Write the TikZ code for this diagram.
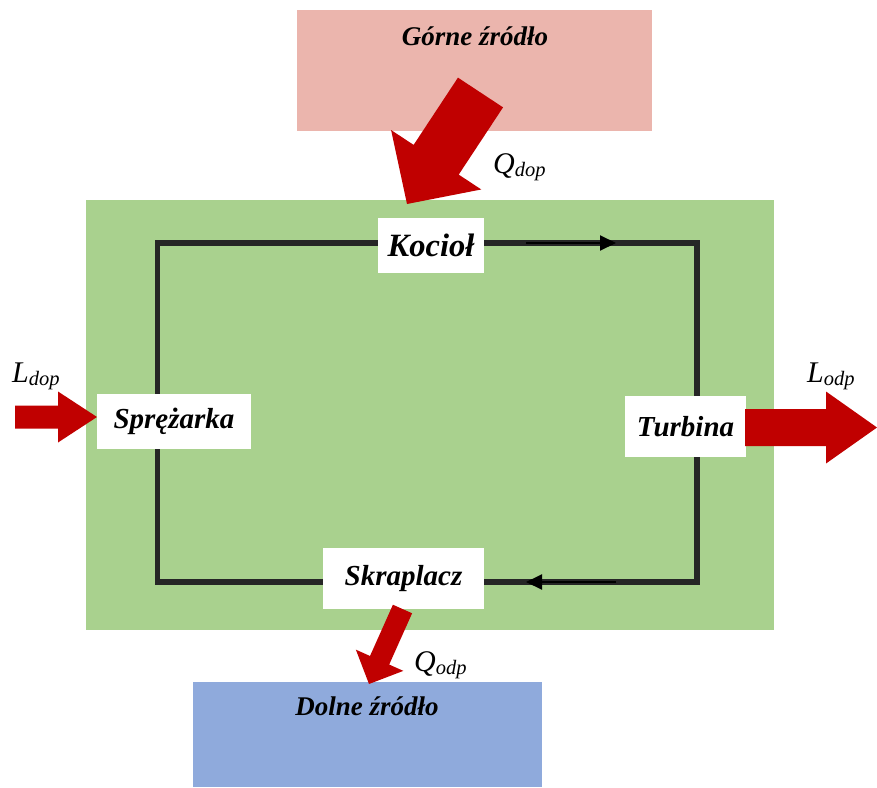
\documentclass[tikz,border=0pt]{standalone}
\usepackage{fontspec}
\setmainfont{Liberation Serif}
\usetikzlibrary{calc}
\usetikzlibrary{arrows.meta}
\definecolor{hotsrc}{HTML}{EBB5AD}
\definecolor{coldsrc}{HTML}{8FAADC}
\definecolor{plant}{HTML}{A9D18E}
\definecolor{heatred}{HTML}{C00000}
\definecolor{loopgray}{HTML}{262626}
% fat arrow: from, tip, half shaft, half head, head length
\newcommand{\heatarrow}[5]{%
  \coordinate (hb) at ($(#2)!#5!(#1)$);
  \fill[heat] ($(#1)!#3!90:(#2)$) -- ($(hb)!#3!90:(#2)$) -- ($(hb)!#4!90:(#2)$) -- (#2)
    -- ($(hb)!#4!-90:(#2)$) -- ($(hb)!#3!-90:(#2)$) -- ($(#1)!#3!-90:(#2)$) -- cycle;}
\newcommand{\work}[2]{{\fontsize{30}{32}\selectfont\itshape #1\raisebox{-0.1em}{\fontsize{20.5}{22}\selectfont #2}}}

\begin{document}
\begin{tikzpicture}[x=1pt, y=-1pt,
    part/.style={fill=white, inner sep=0pt, font=\fontsize{29}{32}\selectfont\bfseries\itshape},
    source/.style={inner sep=0pt, font=\fontsize{27}{29}\selectfont\bfseries\itshape},
    loopline/.style={draw=loopgray, line width=5.5pt},
    flow/.style={line width=2pt, -{Triangle[length=16pt,width=15pt]}},
    heat/.style={fill=heatred}]
        \useasboundingbox (0,0) rectangle (877,787);

        % reservoirs and plant
        \fill[hotsrc] (297,10) rectangle (652,131);
        \fill[plant] (86,200) rectangle (774,630);
        \fill[coldsrc] (193,682) rectangle (542,787);
        \node[source] (gorne) at (475,36) {Górne źródło};
        \node[source] (dolne) at (367,706) {Dolne źródło};

        % the cycle
        \coordinate (c1) at (157.5,243);
        \coordinate (c2) at (697,243);
        \coordinate (c3) at (697,582);
        \coordinate (c4) at (157.5,582);
        \draw[loopline] (c1) -- (c2) -- (c3) -- (c4) -- cycle;
        \coordinate (fa) at (526,243);
        \coordinate (fb) at (616,243);
        \coordinate (fc) at (616,582);
        \coordinate (fd) at (526,582);
        \draw[flow] (fa) -- (fb);
        \draw[flow] (fc) -- (fd);

        \node[part, minimum width=106pt, minimum height=55pt, font=\fontsize{32.5}{34}\selectfont\bfseries\itshape] (kociol) at (431,245.5) {Kocioł};
        \node[part, minimum width=154pt, minimum height=55pt] (sprezarka) at (174,421.5) {Sprężarka};
        \node[part, minimum width=121pt, minimum height=61pt] (turbina) at (685.5,426.5) {Turbina};
        \node[part, minimum width=161pt, minimum height=61pt] (skraplacz) at (403.5,578.5) {Skraplacz};

        % heat and work
        \coordinate (qdop-a) at (480.5,92.5);
        \coordinate (qdop-b) at (407,204);
        \heatarrow{qdop-a}{qdop-b}{27pt}{54pt}{53pt}
        \coordinate (qodp-a) at (402.5,609);
        \coordinate (qodp-b) at (369,684);
        \heatarrow{qodp-a}{qodp-b}{10.5pt}{26pt}{26pt}
        \coordinate (ldop-a) at (15,417);
        \coordinate (ldop-b) at (97,417);
        \heatarrow{ldop-a}{ldop-b}{11.5pt}{25.5pt}{39pt}
        \coordinate (lodp-a) at (745,427.5);
        \coordinate (lodp-b) at (877,427.5);
        \heatarrow{lodp-a}{lodp-b}{18.5pt}{36pt}{51pt}

        \node[anchor=base west, inner sep=0pt] (qdop) at (493,173) {\work{Q}{dop}};
        \node[anchor=base west, inner sep=0pt] (qodp) at (414,671) {\work{Q}{odp}};
        \node[anchor=base west, inner sep=0pt] (ldop) at (12,382) {\work{L}{dop}};
        \node[anchor=base west, inner sep=0pt] (lodp) at (807,382) {\work{L}{odp}};
    \end{tikzpicture}
\end{document}
